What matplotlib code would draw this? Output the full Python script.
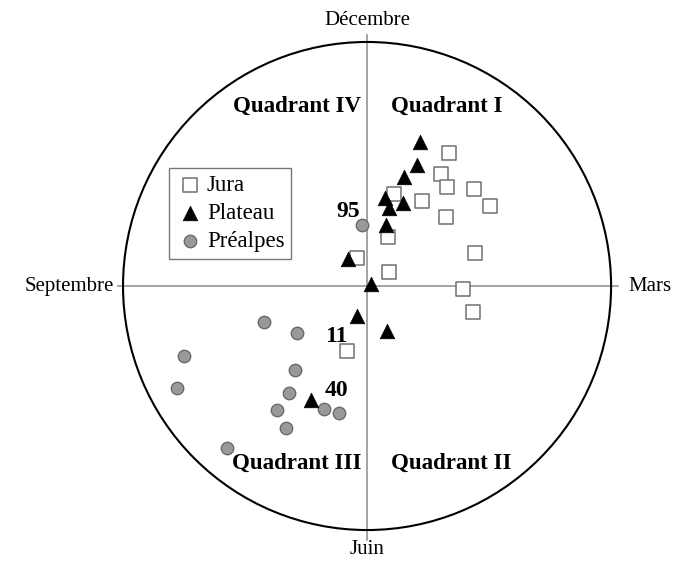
import matplotlib
matplotlib.use("Agg")
import matplotlib.pyplot as plt
from matplotlib.patches import Circle

plt.rcParams['font.family'] = ['Liberation Serif', 'DejaVu Serif']

# Positions on the seasonal circle (unit radius): x = Mars(+)/Septembre(-), y = Décembre(+)/Juin(-)
jura_x = [0.336, 0.303, 0.328, 0.439, 0.111, 0.225, 0.504, 0.324, 0.086, 0.443, -0.041, 0.090, 0.393, 0.434, -0.082]
jura_y = [0.545, 0.459, 0.406, 0.398, 0.377, 0.348, 0.328, 0.283, 0.201, 0.135, 0.115, 0.057, -0.012, -0.107, -0.266]

plateau_x = [0.217, 0.205, 0.152, 0.074, 0.148, 0.090, 0.078, -0.078, 0.016, -0.041, 0.082, -0.230]
plateau_y = [0.590, 0.496, 0.447, 0.361, 0.340, 0.320, 0.250, 0.111, 0.008, -0.123, -0.184, -0.467]

prealpes_x = [-0.020, -0.422, -0.287, -0.750, -0.295, -0.779, -0.320, -0.369, -0.176, -0.115, -0.332, -0.574]
prealpes_y = [0.250, -0.148, -0.193, -0.287, -0.344, -0.418, -0.439, -0.508, -0.504, -0.520, -0.582, -0.664]

series_names = ["Jura", "Plateau", "Préalpes"]
months = ["Décembre", "Mars", "Juin", "Septembre"]
quadrants = ["Quadrant I", "Quadrant II", "Quadrant III", "Quadrant IV"]
point_labels = ["95", "11", "40"]
label_x = [-0.078, -0.127, -0.127]
label_y = [0.307, -0.205, -0.430]

fig = plt.figure(figsize=(6.77, 5.62), dpi=100)
ax = fig.add_axes([0, 0, 1, 1])
ax.set_xlim(-1.504, 1.270)
ax.set_ylim(-1.131, 1.172)
ax.set_aspect('equal')
ax.axis('off')

# axes lines
ax.plot([-1.02, 1.03], [0, 0], color='#8a8a8a', lw=1.1, zorder=1)
ax.plot([0, 0], [-1.04, 1.03], color='#8a8a8a', lw=1.1, zorder=1)
ax.add_patch(Circle((0, 0), 1.0, fill=False, edgecolor='black', lw=1.5, zorder=2))

ax.scatter(jura_x, jura_y, marker='s', s=90, facecolor='white', edgecolor='#707070',
           linewidths=1.1, zorder=3, label=series_names[0])
ax.scatter(plateau_x, plateau_y, marker='^', s=110, facecolor='black', edgecolor='black',
           linewidths=0.5, zorder=4, label=series_names[1])
ax.scatter(prealpes_x, prealpes_y, marker='o', s=80, facecolor='#999999', edgecolor='#6a6a6a',
           linewidths=1.0, zorder=3, label=series_names[2])

for t, x, y in zip(point_labels, label_x, label_y):
    ax.text(x, y, t, ha='center', va='center', fontsize=17, fontweight='bold', zorder=5)

# month labels
mfs = 15
ax.text(0, 1.09, months[0], ha='center', va='center', fontsize=mfs)
ax.text(1.07, 0.0, months[1], ha='left', va='center', fontsize=mfs)
ax.text(0, -1.08, months[2], ha='center', va='center', fontsize=mfs)
ax.text(-1.035, 0.0, months[3], ha='right', va='center', fontsize=mfs)

# quadrant labels
qfs = 16.5
ax.text(0.328, 0.738, quadrants[0], ha='center', va='center', fontsize=qfs, fontweight='bold')
ax.text(0.344, -0.725, quadrants[1], ha='center', va='center', fontsize=qfs, fontweight='bold')
ax.text(-0.287, -0.725, quadrants[2], ha='center', va='center', fontsize=qfs, fontweight='bold')
ax.text(-0.287, 0.738, quadrants[3], ha='center', va='center', fontsize=qfs, fontweight='bold')

leg = ax.legend(loc='upper left', bbox_to_anchor=(169 / 677, 1 - 168 / 562), fontsize=16.5,
                frameon=True, fancybox=False, edgecolor='#777777', framealpha=1,
                handletextpad=0.15, borderpad=0.3, labelspacing=0.3, handlelength=1.2,
                borderaxespad=0)
leg.get_frame().set_linewidth(1.0)

fig.savefig('out.png', dpi=100)
